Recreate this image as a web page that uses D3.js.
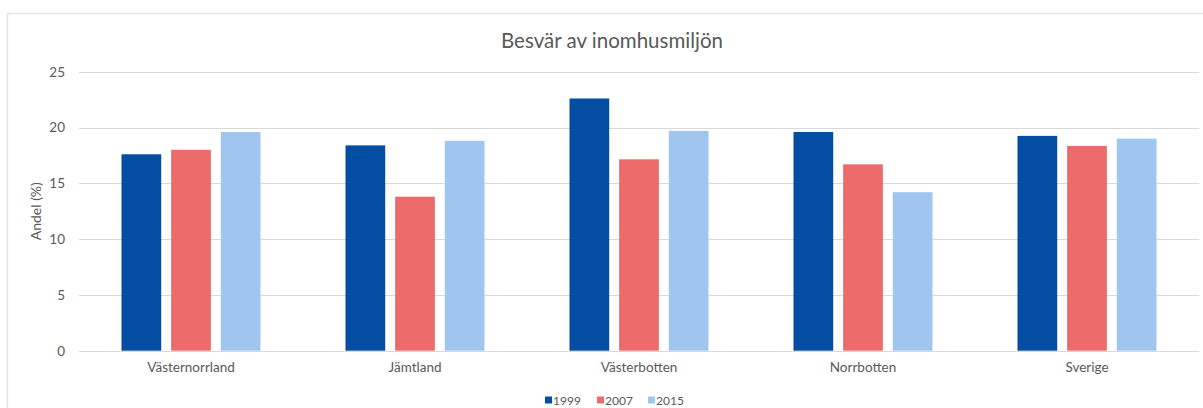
<!DOCTYPE html>
<html><head><meta charset="utf-8">
<script src="https://cdn.jsdelivr.net/npm/d3@7"></script>
<style>body{margin:0;background:#fff;} text{font-family:Lato,"Open Sans",sans-serif;}</style>
</head><body>
<svg id="c" width="1203" height="408"></svg>
<script>
const categories = ["Västernorrland","Jämtland","Västerbotten","Norrbotten","Sverige"];
const seriesNames = ["1999","2007","2015"];
const values1999 = [17.6, 18.4, 22.6, 19.6, 19.25];
const values2007 = [18.0, 13.8, 17.15, 16.7, 18.35];
const values2015 = [19.6, 18.8, 19.7, 14.2, 19.0];
const yTicks = [0,5,10,15,20,25];
const colors = ["#034ea2","#ee6b6b","#a0c5ee"];
const seriesValues = [values1999, values2007, values2015];

const svg = d3.select("#c");
// frame
svg.append("rect").attr("x",7.5).attr("y",13.5).attr("width",1210).attr("height",420)
  .attr("fill","none").attr("stroke","#e3e3e3").attr("stroke-width",1.5);

const x0 = d3.scaleBand().domain(categories).range([79,1199]);
const x1 = d3.scaleBand().domain(seriesNames).range([42.5, 181.5]).paddingInner(0.2);
const y = d3.scaleLinear().domain([0,25]).range([350.7,71.7]);

// gridlines
svg.append("g").selectAll("line").data(yTicks).join("line")
  .attr("x1",79).attr("x2",1199).attr("y1",d=>Math.round(y(d))+0.5).attr("y2",d=>Math.round(y(d))+0.5)
  .attr("stroke","#d9d9d9").attr("stroke-width",1);

// y axis labels
const yAxis = d3.axisLeft(y).tickValues(yTicks).tickSize(0).tickPadding(14);
const gy = svg.append("g").attr("transform","translate(79,0)").call(yAxis);
gy.select(".domain").remove();
gy.selectAll("text").attr("fill","#595959").style("font-size","13.5px");

// bars
const groups = svg.append("g").selectAll("g").data(categories).join("g")
  .attr("transform",d=>`translate(${x0(d)},0)`);
groups.selectAll("rect").data((c,i)=>seriesNames.map((s,j)=>({s, v:seriesValues[j][i], j})))
  .join("rect")
  .attr("x",d=>x1(d.s)).attr("width",x1.bandwidth())
  .attr("y",d=>y(d.v)).attr("height",d=>y(0)-y(d.v))
  .attr("fill",d=>colors[d.j]);

// x axis
const xAxis = d3.axisBottom(x0).tickSize(0).tickPadding(12);
const gx = svg.append("g").attr("transform",`translate(0,${y(0)})`).call(xAxis);
gx.select(".domain").remove();
gx.selectAll("text").attr("fill","#595959").style("font-size","13.5px");

// title
svg.append("text").attr("x",612).attr("y",48).attr("text-anchor","middle")
  .attr("fill","#595959").style("font-size","20.5px").text("Besvär av inomhusmiljön");

// y title
svg.append("text").attr("transform",`translate(41,${(y(0)+y(25))/2}) rotate(-90)`)
  .attr("text-anchor","middle").attr("fill","#595959").style("font-size","14px").text("Andel (%)");

// legend
const legX = [545, 597, 648];
const leg = svg.append("g").selectAll("g").data(seriesNames).join("g")
  .attr("transform",(d,i)=>`translate(${legX[i]},400)`);
leg.append("rect").attr("x",0).attr("y",-3.5).attr("width",7).attr("height",7).attr("fill",(d,i)=>colors[i]);
leg.append("text").attr("x",8).attr("y",4.5).attr("fill","#595959").style("font-size","12px").text(d=>d);
</script>
</body></html>
